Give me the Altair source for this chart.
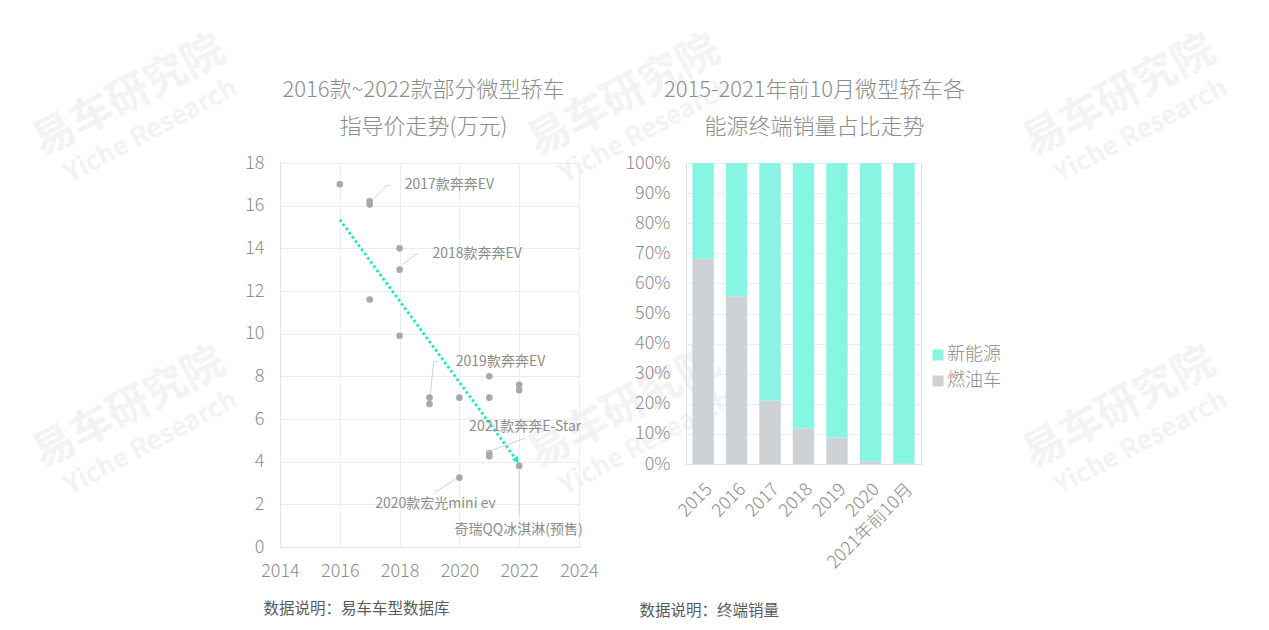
import altair as alt
import pandas as pd

FONT = "Noto Sans CJK SC"
GRAY_TXT = "#8c8c8c"

# ---------- left chart data ----------
pt_year = [2016, 2017, 2017, 2017, 2018, 2018, 2018, 2019, 2019, 2020, 2020,
           2021, 2021, 2021, 2021, 2022, 2022, 2022]
pt_price = [17.0, 16.2, 16.05, 11.6, 14.0, 13.0, 9.9, 7.0, 6.7, 7.0, 3.25,
            8.0, 7.0, 4.4, 4.25, 7.6, 7.35, 3.8]

trend_x = [2016.0, 2021.9]
trend_y = [15.35, 4.1]

lbl_text = ["2017款奔奔EV", "2018款奔奔EV", "2019款奔奔EV", "2021款奔奔E-Star",
            "2020款宏光mini ev", "奇瑞QQ冰淇淋(预售)"]
lbl_x = [2018.17, 2019.1, 2019.88, 2022.2, 2019.2, 2021.98]
lbl_y = [16.95, 13.72, 8.69, 5.63, 2.0, 0.78]
lbl_align = ["left", "left", "left", "center", "center", "center"]

ld_id = [1, 1, 1, 2, 2, 2, 3, 3, 3, 4, 4, 5, 5, 6, 6]
ld_ord = [0, 1, 2, 0, 1, 2, 0, 1, 2, 0, 1, 0, 1, 0, 1]
ld_x = [2017.08, 2017.58, 2017.69, 2018.13, 2018.52, 2018.63, 2019.03, 2019.14, 2019.28,
        2020.93, 2022.2, 2019.87, 2019.2, 2022.0, 2022.0]
ld_y = [16.25, 16.95, 16.95, 13.25, 13.72, 13.72, 7.2, 8.69, 8.69,
        4.45, 5.1, 3.17, 2.59, 3.6, 1.45]

x_ticks = [2014, 2016, 2018, 2020, 2022, 2024]
y_ticks = [0, 2, 4, 6, 8, 10, 12, 14, 16, 18]

# watermark anchors (offsets from the left plot's top-left corner)
wm_cn_x = [-151, 344, 839, -151, 344, 839]
wm_cn_y = [-66, -66, -66, 246, 246, 246]
wm_en_x = [-129, 366, 861, -129, 366, 861]
wm_en_y = [-31, -31, -31, 281, 281, 281]

# ---------- right chart data ----------
bar_cat = ["2015", "2016", "2017", "2018", "2019", "2020", "2021年前10月"]
gas_share = [68.2, 55.7, 21.0, 11.8, 8.8, 0.9, 0.2]
series = ["新能源", "燃油车"]
series_color = ["#88f5e3", "#cfd2d5"]

# ---------- watermark layer ----------
wm_cn = pd.DataFrame({"x": wm_cn_x, "y": wm_cn_y})
wm_en = pd.DataFrame({"x": wm_en_x, "y": wm_en_y})
wx = alt.X("x:Q", scale=alt.Scale(domain=[0, 1], nice=False, zero=False), axis=None)
wy = alt.Y("y:Q", scale=alt.Scale(domain=[0, 1], nice=False, zero=False, reverse=True),
           axis=None)
wm1 = alt.Chart(wm_cn).mark_text(text="易车研究院", fontSize=42, fontWeight="bold",
                                 font=FONT, color="#f3f3f3", angle=332,
                                 align="center", baseline="middle").encode(x=wx, y=wy)
wm2 = alt.Chart(wm_en).mark_text(text="Yiche Research", fontSize=26, fontWeight="bold",
                                 font=FONT, color="#f3f3f3", angle=332,
                                 align="center", baseline="middle").encode(x=wx, y=wy)
watermark = alt.layer(wm1, wm2).properties(width=1, height=1)

# ---------- left chart ----------
pts = pd.DataFrame({"year": pt_year, "price": pt_price})
trend = pd.DataFrame({"year": trend_x, "price": trend_y})
arrow = pd.DataFrame({"year": trend_x[-1:], "price": trend_y[-1:]})
lbls = pd.DataFrame({"year": lbl_x, "price": lbl_y, "text": lbl_text, "align": lbl_align})
leads = pd.DataFrame({"id": ld_id, "ord": ld_ord, "year": ld_x, "price": ld_y})

xs = alt.Scale(domain=[2014, 2024], nice=False, zero=False)
ys = alt.Scale(domain=[0, 18], nice=False)
X = alt.X("year:Q", scale=xs)
Y = alt.Y("price:Q", scale=ys)

x_enc = alt.X("year:Q", scale=xs, axis=alt.Axis(
    values=x_ticks, format="d", grid=True, gridColor="#ececec", domainColor="#e3e3e3",
    ticks=False, labelFontSize=18, labelColor=GRAY_TXT, labelPadding=15, labelFont=FONT,
    labelFontWeight=300, labelOverlap=False, labelFlush=False,
    title="数据说明：易车车型数据库", titleX=-17, titleY=61, titleAlign="left",
    titleBaseline="middle", titleAngle=0, titleFontSize=15.5, titleFontWeight="normal",
    titleColor="#595959", titleFont=FONT))
y_enc = alt.Y("price:Q", scale=ys, axis=alt.Axis(
    values=y_ticks, grid=True, gridColor="#ececec", domainColor="#e3e3e3",
    ticks=False, labelFontSize=18, labelColor=GRAY_TXT, labelPadding=16, labelFont=FONT,
    labelFontWeight=300, labelOverlap=False, title=None))

points = alt.Chart(pts).mark_circle(size=44, color="#a5a8ad", opacity=1).encode(x=x_enc, y=y_enc)
trend_line = alt.Chart(trend).mark_line(color="#17e8c6", strokeWidth=2.8,
                                        strokeDash=[2.6, 2.6]).encode(x=X, y=Y)
arrow_head = alt.Chart(arrow).mark_point(shape="triangle", filled=True, size=55,
                                         color="#17e8c6", opacity=1, angle=143).encode(x=X, y=Y)
lead_lines = alt.Chart(leads).mark_line(color="#d0d0d0", strokeWidth=1).encode(
    x=X, y=Y, detail="id:N", order="ord:Q")
left_lbl = alt.Chart(lbls).transform_filter("datum.align == 'left'").mark_text(
    align="left", baseline="middle", fontSize=14, font=FONT, color=GRAY_TXT).encode(
    x=X, y=Y, text="text:N")
ctr_lbl = alt.Chart(lbls).transform_filter("datum.align == 'center'").mark_text(
    align="center", baseline="middle", fontSize=14, font=FONT, color=GRAY_TXT).encode(
    x=X, y=Y, text="text:N")

left = alt.layer(points, trend_line, arrow_head, lead_lines, left_lbl, ctr_lbl).properties(
    width=299, height=384,
    title=alt.TitleParams(["2016款~2022款部分微型轿车", "指导价走势(万元)"],
                          fontSize=22, font=FONT, color=GRAY_TXT, fontWeight=300,
                          lineHeight=37, offset=15, anchor="middle", frame="group",
                          dx=-6))

# ---------- right chart ----------
rows = []
for c, g in zip(bar_cat, gas_share):
    rows.append({"cat": c, "series": "燃油车", "val": g / 100.0, "ord": 0})
    rows.append({"cat": c, "series": "新能源", "val": (100.0 - g) / 100.0, "ord": 1})
bars_df = pd.DataFrame(rows)

bars = alt.Chart(bars_df).mark_bar(opacity=1).encode(
    x=alt.X("cat:N", sort=bar_cat,
            scale=alt.Scale(paddingInner=0.36, paddingOuter=0.19),
            axis=alt.Axis(labelAngle=-45, labelFontSize=18, labelColor=GRAY_TXT,
                          labelFont=FONT, labelFontWeight=300, ticks=False,
                          domainColor="#e3e3e3", labelPadding=16,
                          title="数据说明：终端销量", titleX=-47, titleY=146,
                          titleAlign="left", titleBaseline="middle", titleAngle=0,
                          titleFontSize=15.5, titleFontWeight="normal",
                          titleColor="#595959", titleFont=FONT)),
    y=alt.Y("val:Q", stack="zero", scale=alt.Scale(domain=[0, 1], nice=False),
            axis=alt.Axis(format=".0%", values=[i / 10 for i in range(11)],
                          grid=True, gridColor="#ececec", domain=False, ticks=False,
                          labelFontSize=18, labelColor=GRAY_TXT, labelPadding=16,
                          labelFont=FONT, labelFontWeight=300, title=None)),
    color=alt.Color("series:N", scale=alt.Scale(domain=series, range=series_color),
                    legend=alt.Legend(title=None, orient="none", legendX=243, legendY=183,
                                      symbolType="square", symbolSize=121,
                                      symbolStrokeWidth=0, labelFontSize=18,
                                      labelColor=GRAY_TXT, labelFont=FONT,
                                      labelFontWeight=300,
                                      rowPadding=8, labelOffset=0)),
    order=alt.Order("ord:Q"),
).properties(
    width=235, height=301,
    title=alt.TitleParams(["2015-2021年前10月微型轿车各", "能源终端销量占比走势"],
                          fontSize=22, font=FONT, color=GRAY_TXT, fontWeight=300,
                          lineHeight=37, offset=15, anchor="middle", frame="group",
                          dx=11))

charts = alt.hconcat(left, bars, spacing=107, bounds="flush").resolve_legend(
    color="independent")

chart = alt.vconcat(watermark, charts, spacing=-1, bounds="flush").resolve_scale(
    x="independent", y="independent"
).properties(
    padding={"left": 17, "top": 19, "right": 0, "bottom": 5}
).configure_view(stroke=None).configure(font=FONT)

chart.save("out.html", embed_options={"renderer": "svg", "actions": False})
